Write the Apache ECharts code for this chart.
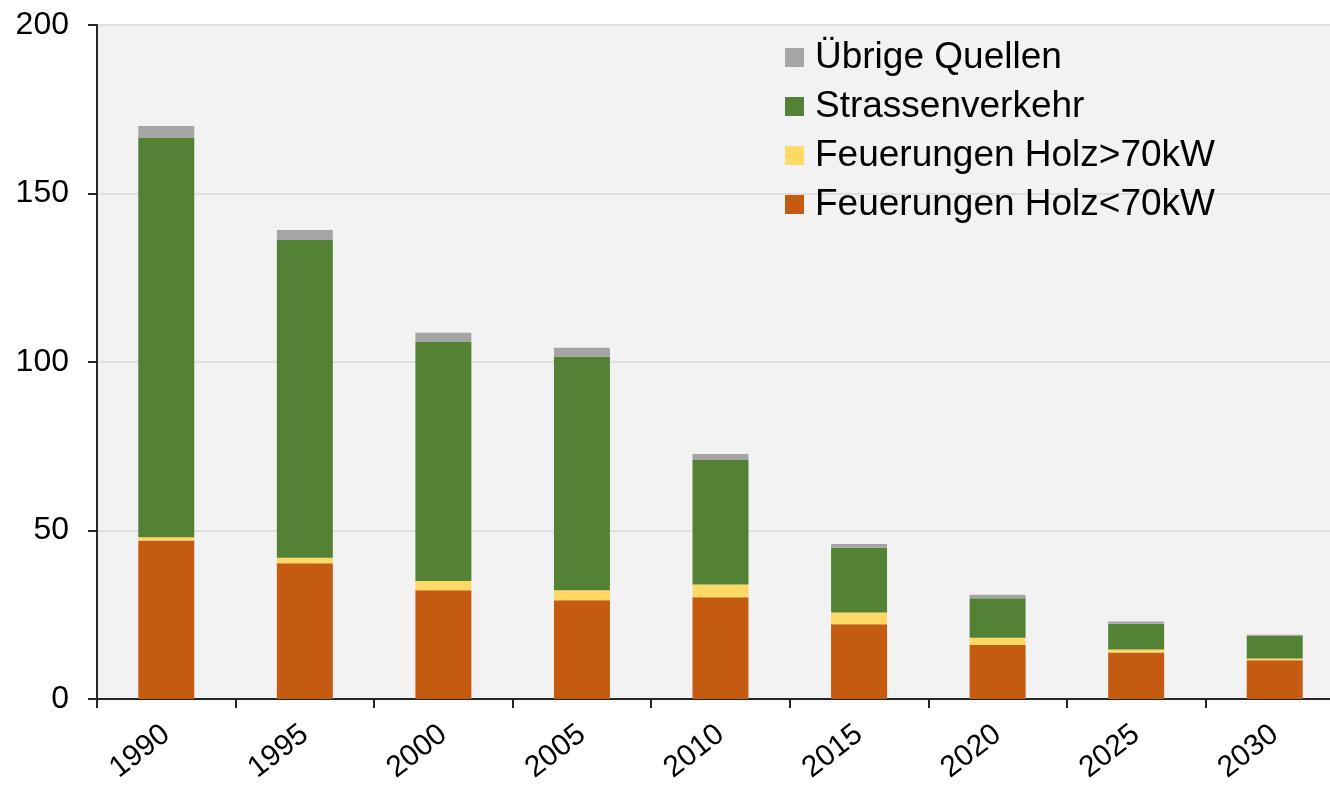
<!DOCTYPE html>
<html>
<head>
<meta charset="utf-8">
<script src="https://cdn.jsdelivr.net/npm/echarts@6/dist/echarts.min.js"></script>
<style>
  html, body { margin: 0; padding: 0; background: #fff; overflow: hidden; }
  /* Plotfläche läuft rechts über den Bildrand hinaus */
  #chart { width: 1344px; height: 788px; }
</style>
</head>
<body>
<div id="chart"></div>
<script>
// Jahre (x-Achse)
var years = ['1990', '1995', '2000', '2005', '2010', '2015', '2020', '2025', '2030'];
// Werte je Quelle
var holzKlein = [47.0, 40.3, 32.3, 29.3, 30.2, 22.2, 16.0, 13.8, 11.5]; // Feuerungen Holz<70kW
var holzGross = [1.0, 1.6, 2.7, 3.0, 3.8, 3.5, 2.2, 0.9, 0.5];          // Feuerungen Holz>70kW
var strasse = [118.6, 94.3, 70.9, 69.3, 36.9, 19.2, 11.7, 7.6, 6.7];     // Strassenverkehr
var uebrige = [3.4, 3.0, 2.8, 2.6, 1.8, 1.1, 1.0, 0.7, 0.4];             // Übrige Quellen
var yTicks = [0, 50, 100, 150, 200];

var chart = echarts.init(document.getElementById('chart'));
var font = 'Liberation Sans, Arial, sans-serif';

function bar(name, data, color) {
  return {
    name: name,
    type: 'bar',
    stack: 'total',
    barWidth: '40.4%',
    data: data,
    itemStyle: { color: color }
  };
}

chart.setOption({
  animation: false,
  grid: {
    left: 97, right: 0, top: 25, bottom: 89,
    show: true,
    backgroundColor: '#f2f2f2',
    borderWidth: 0
  },
  legend: {
    orient: 'vertical',
    left: 785,
    top: 39,
    padding: 0,
    itemWidth: 19,
    itemHeight: 19,
    itemGap: 12,
    icon: 'rect',
    textStyle: { fontFamily: font, fontSize: 37, color: '#000', lineHeight: 36, padding: [0, 0, 0, 6] },
    data: ['Übrige Quellen', 'Strassenverkehr', 'Feuerungen Holz>70kW', 'Feuerungen Holz<70kW']
  },
  xAxis: {
    type: 'category',
    data: years,
    axisLine: { lineStyle: { color: '#262626', width: 2 } },
    axisTick: { show: true, length: 9, lineStyle: { color: '#262626', width: 2 } },
    axisLabel: {
      rotate: 38,
      margin: 32,
      fontFamily: font,
      fontSize: 30,
      color: '#000'
    }
  },
  yAxis: {
    type: 'value',
    min: yTicks[0],
    max: yTicks[yTicks.length - 1],
    interval: 50,
    axisLine: { show: true, lineStyle: { color: '#262626', width: 2 } },
    axisTick: { show: true, length: 9, lineStyle: { color: '#262626', width: 2 } },
    axisLabel: { margin: 28, fontFamily: font, fontSize: 32, color: '#000' },
    splitLine: { lineStyle: { color: '#d9d9d9', width: 1.5 } }
  },
  series: [
    bar('Feuerungen Holz<70kW', holzKlein, '#c55a11'),
    bar('Feuerungen Holz>70kW', holzGross, '#ffd966'),
    bar('Strassenverkehr', strasse, '#548235'),
    bar('Übrige Quellen', uebrige, '#a5a5a5')
  ]
});
</script>
</body>
</html>
